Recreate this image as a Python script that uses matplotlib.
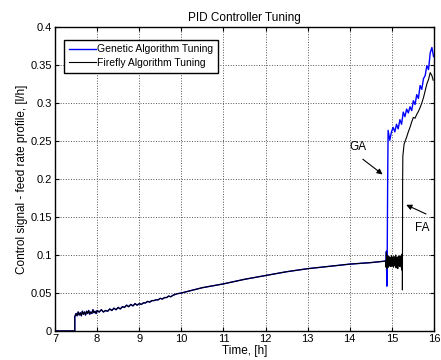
import matplotlib
matplotlib.use("Agg")
import matplotlib.pyplot as plt

plt.rcParams['font.family'] = ['Liberation Sans', 'DejaVu Sans']

# Shared early part (both tunings identical up to ~14.85 h)
t_base = [7.0, 7.47, 7.47, 7.50, 7.525, 7.55, 7.575, 7.60, 7.625, 7.65, 7.675, 7.70, 7.725, 7.75,
          7.775, 7.80, 7.825, 7.85, 7.875, 7.90, 7.925, 7.95, 7.975, 8.00, 8.05, 8.10, 8.15,
          8.20, 8.25, 8.30, 8.35, 8.40, 8.45, 8.50, 8.55, 8.60, 8.65, 8.70, 8.75, 8.80,
          8.85, 8.90, 8.95, 9.00, 9.05, 9.10, 9.15, 9.20, 9.25, 9.30, 9.35, 9.40, 9.45,
          9.50, 9.55, 9.60, 9.65, 9.70, 9.75, 9.80, 9.85, 9.90, 10.0, 10.5, 11.0, 11.5,
          12.0, 12.5, 13.0, 13.5, 14.0, 14.5, 14.85]
y_base = [0.0, 0.0, 0.019, 0.023, 0.020, 0.025, 0.021, 0.024, 0.020, 0.026, 0.022, 0.025, 0.021,
          0.026, 0.023, 0.027, 0.022, 0.025, 0.023, 0.028, 0.024, 0.026, 0.023, 0.027, 0.025,
          0.028, 0.025, 0.027, 0.026, 0.029, 0.027, 0.030, 0.028, 0.031, 0.029, 0.032, 0.031,
          0.034, 0.032, 0.035, 0.033, 0.036, 0.034, 0.036, 0.035, 0.037, 0.037, 0.039, 0.038,
          0.040, 0.040, 0.041, 0.041, 0.043, 0.042, 0.044, 0.044, 0.046, 0.045, 0.047, 0.048,
          0.049, 0.050, 0.057, 0.062, 0.068, 0.073, 0.078, 0.082, 0.085, 0.088, 0.090, 0.092]

# Genetic Algorithm tail
t_ga = [14.86, 14.87, 14.875, 14.88, 14.885, 14.89, 14.9, 14.91, 14.95, 14.99, 15.03, 15.07,
        15.11, 15.15, 15.19, 15.23, 15.27, 15.31, 15.35, 15.39, 15.43, 15.47, 15.51, 15.55,
        15.59, 15.63, 15.67, 15.71, 15.75, 15.79, 15.83, 15.87, 15.91, 15.95, 15.99]
y_ga = [0.088, 0.105, 0.080, 0.059, 0.095, 0.110, 0.200, 0.264, 0.251, 0.262, 0.268, 0.262,
        0.272, 0.266, 0.278, 0.272, 0.288, 0.282, 0.292, 0.287, 0.295, 0.290, 0.303, 0.298,
        0.311, 0.306, 0.323, 0.318, 0.332, 0.336, 0.349, 0.344, 0.366, 0.373, 0.361]

# Firefly Algorithm tail
t_fa = [14.86, 14.87, 14.88, 14.89, 14.90, 14.91, 14.92, 14.93, 14.94, 14.95, 14.96, 14.97,
        14.98, 14.99, 15.00, 15.01, 15.02, 15.03, 15.04, 15.05, 15.06, 15.07, 15.08, 15.09,
        15.10, 15.11, 15.12, 15.13, 15.14, 15.15, 15.16, 15.17, 15.18, 15.19, 15.20, 15.21,
        15.22, 15.23, 15.24, 15.25, 15.25, 15.255, 15.26, 15.29, 15.35, 15.39, 15.43, 15.47,
        15.51, 15.55, 15.59, 15.63, 15.67, 15.71, 15.75, 15.79, 15.83, 15.87, 15.91, 15.95,
        15.98]
y_fa = [0.084, 0.104, 0.082, 0.099, 0.086, 0.097, 0.084, 0.098, 0.087, 0.096, 0.085, 0.097,
        0.086, 0.099, 0.085, 0.096, 0.088, 0.097, 0.084, 0.098, 0.087, 0.095, 0.086, 0.100,
        0.083, 0.097, 0.088, 0.096, 0.082, 0.098, 0.087, 0.095, 0.085, 0.099, 0.086, 0.097,
        0.084, 0.101, 0.080, 0.095, 0.054, 0.196, 0.230, 0.246, 0.255, 0.262, 0.268, 0.275,
        0.281, 0.280, 0.285, 0.289, 0.294, 0.300, 0.307, 0.316, 0.325, 0.331, 0.340, 0.336,
        0.330]

x_ticks = [7, 8, 9, 10, 11, 12, 13, 14, 15, 16]
y_ticks = [0, 0.05, 0.1, 0.15, 0.2, 0.25, 0.3, 0.35, 0.4]
y_tick_labels = ['0', '0.05', '0.1', '0.15', '0.2', '0.25', '0.3', '0.35', '0.4']

fig = plt.figure(figsize=(4.41, 3.6), dpi=100)
ax = fig.add_axes([55/441, 1-331/360, (434-55)/441, (331-27)/360])

ax.plot(t_base + t_ga, y_base + y_ga, color='#0000ff', lw=1.0, label='Genetic Algorithm Tuning')
ax.plot(t_base + t_fa, y_base + y_fa, color='black', lw=0.8, label='Firefly Algorithm Tuning')

ax.set_xlim(7, 16)
ax.set_ylim(0, 0.4)
ax.set_xticks(x_ticks)
ax.set_yticks(y_ticks)
ax.set_yticklabels(y_tick_labels)
ax.tick_params(direction='in', top=True, right=True, labelsize=8, length=3, width=0.8, pad=2)
ax.grid(True, color='#555555', linestyle=':', linewidth=0.7)
for s in ax.spines.values():
    s.set_linewidth(1.0)

ax.set_title('PID Controller Tuning', fontsize=8.5, pad=4)
ax.set_xlabel('Time, [h]', fontsize=8.5, labelpad=1)
ax.set_ylabel('Control signal - feed rate profile, [l/h]', fontsize=8.5, labelpad=2)

leg = ax.legend(loc='upper left', bbox_to_anchor=(0.025, 0.958), fontsize=7.5, fancybox=False,
                framealpha=1, edgecolor='black', borderpad=0.45, labelspacing=0.35,
                handlelength=2.6, handletextpad=0.1, borderaxespad=0)
leg.get_frame().set_linewidth(1.0)

arrow = dict(arrowstyle='-|>', color='black', lw=0.8, mutation_scale=8, shrinkA=0, shrinkB=0)
ax.text(14.0, 0.242, 'GA', fontsize=8.5, ha='left', va='center')
ax.annotate('', xy=(14.78, 0.206), xytext=(14.31, 0.226), arrowprops=arrow)
ax.text(15.55, 0.135, 'FA', fontsize=8.5, ha='left', va='center')
ax.annotate('', xy=(15.34, 0.166), xytext=(15.81, 0.154), arrowprops=arrow)

fig.savefig('out.png', dpi=100)
